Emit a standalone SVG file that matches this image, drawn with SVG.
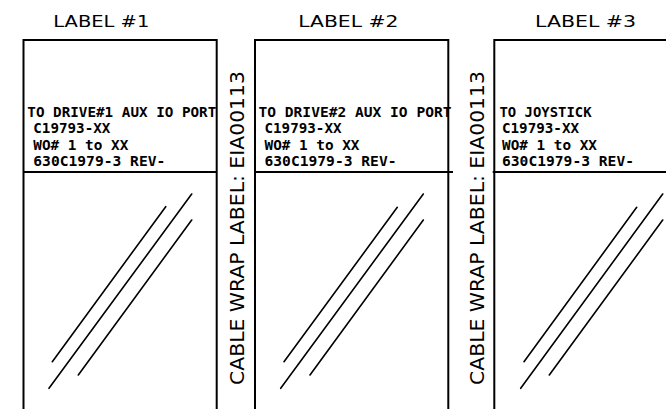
<svg xmlns="http://www.w3.org/2000/svg" width="666" height="409" viewBox="0 0 666 409">
<style>
.bg{fill:#fff}
.box{fill:none;stroke:#000;stroke-width:2}
.div{stroke:#000;stroke-width:2}
.hatch{stroke:#000;stroke-width:1.6;stroke-linecap:round}
.title{font-family:"DejaVu Sans","Liberation Sans",sans-serif;font-size:16px;fill:#000}
.body{font-family:"DejaVu Sans Mono","Liberation Mono",monospace;font-weight:bold;font-size:13.5px;fill:#000}
.vert{font-family:"DejaVu Sans","Liberation Sans",sans-serif;font-size:19px;fill:#000}
</style>
<rect class="bg" x="0" y="0" width="666" height="409"/>
<g id="label1">
  <text class="title" x="53.3" y="26.7" textLength="96" lengthAdjust="spacingAndGlyphs">LABEL #1</text>
  <path class="box" d="M23.5,420 V40 H216.7 V420"/>
  <line class="div" x1="23.5" y1="172" x2="216.7" y2="172"/>
  <text class="body" x="27.3" y="117" textLength="189" lengthAdjust="spacingAndGlyphs">TO DRIVE#1 AUX IO PORT</text>
  <text class="body" x="33.3" y="133.3" textLength="77" lengthAdjust="spacingAndGlyphs">C19793-XX</text>
  <text class="body" x="33.3" y="150" textLength="95" lengthAdjust="spacingAndGlyphs">WO# 1 to XX</text>
  <text class="body" x="33.3" y="165.7" textLength="132" lengthAdjust="spacingAndGlyphs">630C1979-3 REV-</text>
  <line class="hatch" x1="52.3" y1="361.7" x2="165.7" y2="206.7"/>
  <line class="hatch" x1="49" y1="388.3" x2="191.7" y2="194"/>
  <line class="hatch" x1="78.3" y1="375" x2="191.7" y2="220"/>
</g>
<g id="wrap1">
  <text class="vert" transform="translate(243.5,385) rotate(-90)" x="0" y="0" textLength="314" lengthAdjust="spacingAndGlyphs">CABLE WRAP LABEL: EIA00113</text>
</g>
<g id="label2">
  <text class="title" x="298.3" y="26.7" textLength="100" lengthAdjust="spacingAndGlyphs">LABEL #2</text>
  <path class="box" d="M255,420 V40 H448.3 V420"/>
  <line class="div" x1="255" y1="172" x2="453" y2="172"/>
  <text class="body" x="258.5" y="117" textLength="193" lengthAdjust="spacingAndGlyphs">TO DRIVE#2 AUX IO PORT</text>
  <text class="body" x="264.5" y="133.3" textLength="77" lengthAdjust="spacingAndGlyphs">C19793-XX</text>
  <text class="body" x="264.5" y="150" textLength="95" lengthAdjust="spacingAndGlyphs">WO# 1 to XX</text>
  <text class="body" x="264.5" y="165.7" textLength="132" lengthAdjust="spacingAndGlyphs">630C1979-3 REV-</text>
  <line class="hatch" x1="284" y1="361.7" x2="397.3" y2="207.3"/>
  <line class="hatch" x1="280.7" y1="388.3" x2="423.3" y2="194"/>
  <line class="hatch" x1="310" y1="375" x2="423.3" y2="220"/>
</g>
<g id="wrap2">
  <text class="vert" transform="translate(483.5,385) rotate(-90)" x="0" y="0" textLength="314" lengthAdjust="spacingAndGlyphs">CABLE WRAP LABEL: EIA00113</text>
</g>
<g id="label3">
  <text class="title" x="535" y="26.7" textLength="101" lengthAdjust="spacingAndGlyphs">LABEL #3</text>
  <path class="box" d="M494.3,420 V40 H690 V420"/>
  <line class="div" x1="492.7" y1="172" x2="670" y2="172"/>
  <text class="body" x="499.5" y="117" textLength="92" lengthAdjust="spacingAndGlyphs">TO JOYSTICK</text>
  <text class="body" x="502" y="133.3" textLength="77" lengthAdjust="spacingAndGlyphs">C19793-XX</text>
  <text class="body" x="502" y="150" textLength="95" lengthAdjust="spacingAndGlyphs">WO# 1 to XX</text>
  <text class="body" x="502" y="165.7" textLength="132" lengthAdjust="spacingAndGlyphs">630C1979-3 REV-</text>
  <line class="hatch" x1="524" y1="361.7" x2="636.7" y2="207.3"/>
  <line class="hatch" x1="520.7" y1="388.3" x2="662.7" y2="194"/>
  <line class="hatch" x1="549.3" y1="375" x2="662.7" y2="220"/>
</g>
<g id="connectors"/>
</svg>
